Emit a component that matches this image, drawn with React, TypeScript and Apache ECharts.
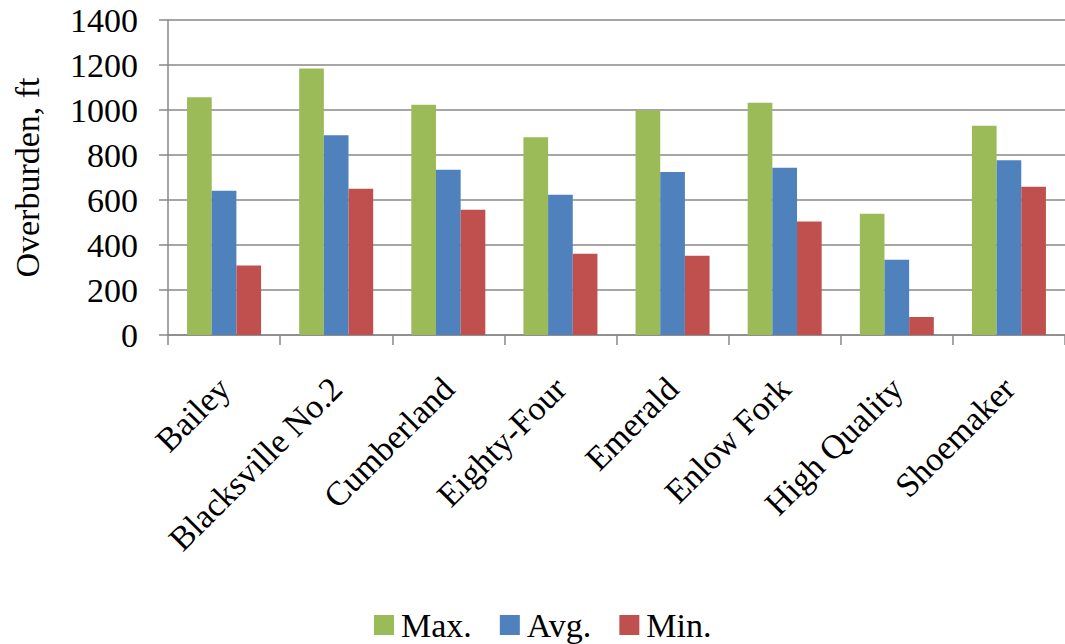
import React, { useEffect, useRef } from "react";
import * as echarts from "echarts";

const categories = ["Bailey", "Blacksville No.2", "Cumberland", "Eighty-Four", "Emerald", "Enlow Fork", "High Quality", "Shoemaker"];
const maxValues = [1057, 1184, 1023, 879, 998, 1032, 539, 930];
const avgValues = [641, 888, 734, 623, 725, 743, 334, 777];
const minValues = [309, 650, 557, 361, 352, 505, 80, 659];
const seriesNames = ["Max.", "Avg.", "Min."];
const colors = ["#9BBB59", "#4F81BD", "#C0504D"];

const FONT = "'Liberation Serif', 'Times New Roman', serif";

export default function App() {
  const ref = useRef<HTMLDivElement>(null);
  useEffect(() => {
    if (!ref.current) return;
    const chart = echarts.init(ref.current, undefined, { renderer: "svg" });
    const data = [maxValues, avgValues, minValues];
    chart.setOption({
      animation: false,
      textStyle: { fontFamily: FONT },
      color: colors,
      grid: { left: 168, top: 20, right: -9, bottom: 309, containLabel: false },
      legend: {
        data: seriesNames,
        top: 608,
        left: 374,
        padding: 0,
        itemWidth: 20,
        itemHeight: 20,
        itemGap: 28,
        icon: "rect",
        textStyle: { fontFamily: FONT, fontSize: 34, lineHeight: 34, color: "#000", padding: [0, 0, 0, 2] },
      },
      xAxis: {
        type: "category",
        data: categories,
        axisLine: { show: true, lineStyle: { color: "#888", width: 1.5 } },
        axisTick: { show: true, length: 10, lineStyle: { color: "#888", width: 1.5 } },
        axisLabel: {
          rotate: 45,
          fontSize: 34,
          fontFamily: FONT,
          color: "#000",
          margin: 24,
          interval: 0,
          align: "right",
          verticalAlign: "top",
          padding: [0, 17, 0, 0],
        },
      },
      yAxis: {
        type: "value",
        min: 0,
        max: 1400,
        interval: 200,
        name: "Overburden, ft",
        nameLocation: "middle",
        nameGap: 124,
        nameTextStyle: { fontSize: 34, fontFamily: FONT, color: "#000" },
        axisLine: { show: true, lineStyle: { color: "#888", width: 1.5 } },
        axisTick: { show: true, length: 9, lineStyle: { color: "#888", width: 1.5 } },
        axisLabel: { fontSize: 34, fontFamily: FONT, color: "#000", margin: 30, formatter: (v: number) => String(v) },
        splitLine: { show: true, lineStyle: { color: "#888", width: 1.5 } },
      },
      series: seriesNames.map((name, i) => ({
        name,
        type: "bar",
        data: data[i],
        barGap: "0%",
        barCategoryGap: "34%",
        itemStyle: { color: colors[i] },
      })),
    });
    return () => chart.dispose();
  }, []);
  return <div ref={ref} style={{ position: "absolute", left: 0, top: 0, width: 1065, height: 644 }} />;
}
